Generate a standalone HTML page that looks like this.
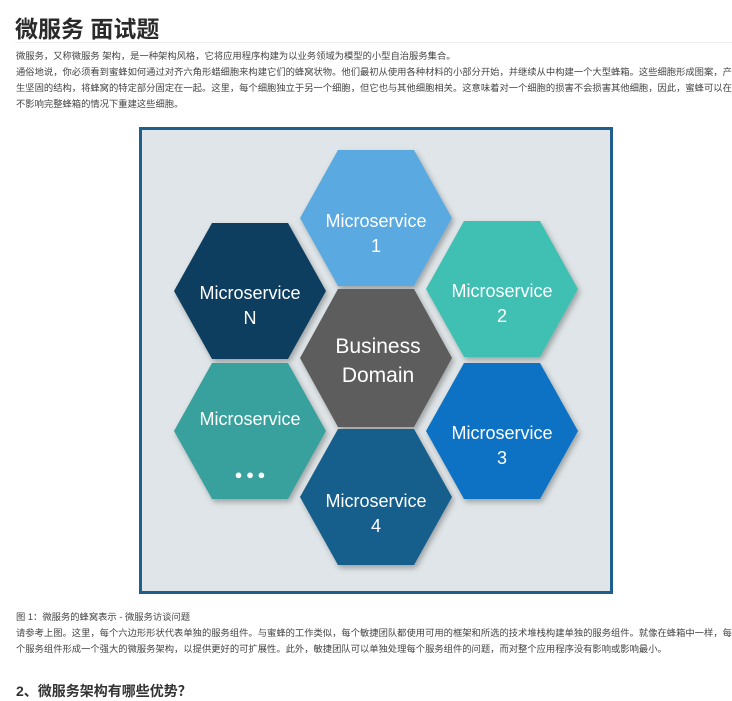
<!DOCTYPE html>
<html><head><meta charset="utf-8"><style>
body{margin:0;background:#fff;width:732px;height:701px;overflow:hidden;font-family:"Liberation Sans","Noto Sans CJK SC",sans-serif;color:#333;position:relative}
.t{position:absolute;left:16px;white-space:nowrap}
h1{position:absolute;left:15px;top:10px;margin:0;font-size:23px;font-weight:bold;color:#2a2a2a}
.hr{position:absolute;left:15px;right:0;top:42px;height:1px;background:#eee}
p{margin:0;font-size:9.3px;line-height:16px;color:#444}
</style></head><body>
<h1>微服务 面试题</h1>
<div class="hr"></div>
<div class="t" style="top:48px;width:722px;white-space:normal">
<p>微服务，又称微服务 架构，是一种架构风格，它将应用程序构建为以业务领域为模型的小型自治服务集合。</p>
<p>通俗地说，你必须看到蜜蜂如何通过对齐六角形蜡细胞来构建它们的蜂窝状物。他们最初从使用各种材料的小部分开始，并继续从中构建一个大型蜂箱。这些细胞形成图案，产生坚固的结构，将蜂窝的特定部分固定在一起。这里，每个细胞独立于另一个细胞，但它也与其他细胞相关。这意味着对一个细胞的损害不会损害其他细胞，因此，蜜蜂可以在不影响完整蜂箱的情况下重建这些细胞。</p>
</div>
<svg style="position:absolute;left:0;top:0" width="732" height="701">
<defs><filter id="s" x="-20%" y="-20%" width="140%" height="140%"><feDropShadow dx="2" dy="3" stdDeviation="3" flood-opacity="0.3"/></filter></defs>
<rect x="140.5" y="128.5" width="471" height="464" fill="#dfe5e8" stroke="#1f5f8b" stroke-width="3"/>
<g filter="url(#s)">
<polygon points="300,218 338,150 414,150 452,218 414,286 338,286" fill="#5aa9e0"/>
<polygon points="426,289 464,221 540,221 578,289 540,357 464,357" fill="#41bfb3"/>
<polygon points="426,431 464,363 540,363 578,431 540,499 464,499" fill="#0872c3"/>
<polygon points="300,497 338,429 414,429 452,497 414,565 338,565" fill="#125f8c"/>
<polygon points="174,431 212,363 288,363 326,431 288,499 212,499" fill="#37a19d"/>
<polygon points="174,291 212,223 288,223 326,291 288,359 212,359" fill="#0b3e5e"/>
<polygon points="300,358 338,289 414,289 452,358 414,427 338,427" fill="#5d5d5d"/>
</g>
<g font-family="Liberation Sans, DejaVu Sans, sans-serif" fill="#fff" text-anchor="middle" font-size="18">
<text x="376" y="227">Microservice</text><text x="376" y="252">1</text>
<text x="502" y="297">Microservice</text><text x="502" y="322">2</text>
<text x="502" y="439">Microservice</text><text x="502" y="464">3</text>
<text x="376" y="507">Microservice</text><text x="376" y="532">4</text>
<text x="250" y="425">Microservice</text><text x="250" y="479" font-size="13">● ● ●</text>
<text x="250" y="299">Microservice</text><text x="250" y="324">N</text>
<text x="378" y="353" font-size="21">Business</text><text x="378" y="382" font-size="21">Domain</text>
</g>
</svg>
<div class="t" style="top:609px;width:722px;white-space:normal">
<p>图 1：微服务的蜂窝表示 - 微服务访谈问题</p>
<p>请参考上图。这里，每个六边形形状代表单独的服务组件。与蜜蜂的工作类似，每个敏捷团队都使用可用的框架和所选的技术堆栈构建单独的服务组件。就像在蜂箱中一样，每个服务组件形成一个强大的微服务架构，以提供更好的可扩展性。此外，敏捷团队可以单独处理每个服务组件的问题，而对整个应用程序没有影响或影响最小。</p>
</div>
<div class="t" style="top:681px;font-size:14px;font-weight:bold;color:#333">2、微服务架构有哪些优势？</div>
</body></html>
